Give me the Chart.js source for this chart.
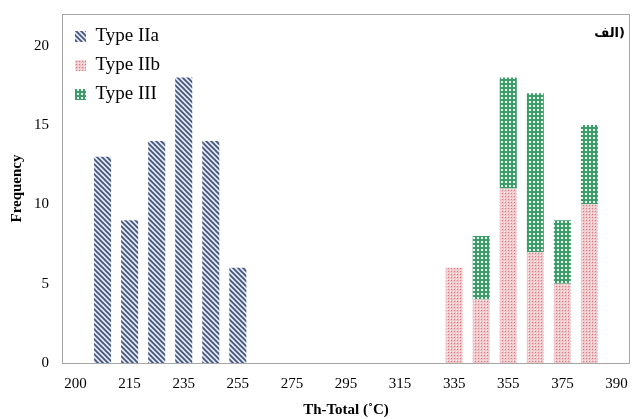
<!DOCTYPE html>
<html>
<head>
<meta charset="utf-8">
<script src="https://cdn.jsdelivr.net/npm/chart.js@4.4.1/dist/chart.umd.min.js"></script>
<style>
  html, body { margin: 0; padding: 0; background: #fff; }
  #wrap { width: 633px; height: 419px; }
</style>
</head>
<body>
<div id="wrap"><canvas id="canvas"></canvas></div>
<script>
// bins along the x axis, only every other one is labelled in the original
const tickLabels = ["200","","215","","235","","255","","275","","295","","315","","335","","355","","375","","390"];

const typeIIa = [null,13,9,14,18,14,6,null,null,null,null,null,null,null,null,null,null,null,null,null,null];
const typeIIb = [null,null,null,null,null,null,null,null,null,null,null,null,null,null,6,4,11,7,5,10,null];
const typeIII = [null,null,null,null,null,null,null,null,null,null,null,null,null,null,null,4,7,10,4,5,null];

const yTicks = [0, 5, 10, 15, 20];

const ctx = document.getElementById("canvas").getContext("2d");

function makePattern(size, draw) {
  const c = document.createElement("canvas");
  c.width = size; c.height = size;
  draw(c.getContext("2d"), size);
  return ctx.createPattern(c, "repeat");
}

// diagonal stripes
const stripes = makePattern(5, (g, s) => {
  g.fillStyle = "#e2e8f1";
  g.fillRect(0, 0, s, s);
  g.strokeStyle = "#43547a";
  g.lineWidth = 1.7;
  g.beginPath();
  g.moveTo(-1, -1); g.lineTo(s + 1, s + 1);
  g.moveTo(-1, s - 1); g.lineTo(1, s + 1);
  g.moveTo(s - 1, -1); g.lineTo(s + 1, 1);
  g.stroke();
});

// pink dots
const pinkDots = makePattern(3, (g, s) => {
  g.fillStyle = "#f0c8cb";
  g.fillRect(0, 0, s, s);
  g.fillStyle = "#fbefef";
  g.fillRect(0, 0, 1, 1);
  g.fillStyle = "#d57a80";
  g.fillRect(1, 1, 1, 1);
});

// green check
const greenCheck = makePattern(4, (g, s) => {
  g.fillStyle = "#3e9b6a";
  g.fillRect(0, 0, s, s);
  g.fillStyle = "#eef7f1";
  g.fillRect(1, 1, 2, 2);
});

const frame = {
  id: "frame",
  afterLayout(chart) {
    // keep the legend inside the plot, at its top-left corner
    const lg = chart.legend, a = chart.chartArea;
    const h = lg.height, w = lg.width;
    lg.top = a.top + 3;
    lg.bottom = lg.top + h;
    lg.left = a.left + 3;
    lg.right = lg.left + w;
  },
  afterDraw(chart) {
    const a = chart.chartArea, c = chart.ctx;
    c.save();
    c.strokeStyle = "#a6a6a6";
    c.lineWidth = 1;
    c.strokeRect(Math.round(a.left) + 0.5, Math.round(a.top) + 0.5, Math.round(a.right - a.left) - 1, Math.round(a.bottom - a.top));
    c.fillStyle = "#000";
    c.font = 'bold 13px "DejaVu Sans"';
    c.textAlign = "right";
    c.textBaseline = "middle";
    c.fillText("الف)", a.right - 5, a.top + 20);
    c.restore();
  }
};

const serif = "'Liberation Serif', 'Times New Roman', serif";

new Chart(ctx, {
  type: "bar",
  data: {
    labels: tickLabels,
    datasets: [
      { label: "Type IIa", data: typeIIa, backgroundColor: stripes, borderWidth: 0 },
      { label: "Type IIb", data: typeIIb, backgroundColor: pinkDots, borderWidth: 0 },
      { label: "Type III", data: typeIII, backgroundColor: greenCheck, borderWidth: 0 }
    ]
  },
  options: {
    responsive: true,
    maintainAspectRatio: false,
    animation: false,
    layout: { padding: { top: 3, right: 3, bottom: 0, left: 0 } },
    datasets: { bar: { categoryPercentage: 1, barPercentage: 0.63 } },
    plugins: {
      tooltip: { enabled: false },
      legend: {
        position: "chartArea",
        align: "start",
        labels: {
          boxWidth: 11,
          boxHeight: 11,
          padding: 10,
          color: "#000",
          font: { family: serif, size: 19 }
        }
      }
    },
    scales: {
      x: {
        stacked: true,
        grid: { display: false },
        border: { display: false },
        ticks: {
          autoSkip: false,
          maxRotation: 0,
          padding: 4,
          color: "#000",
          font: { family: serif, size: 15 }
        },
        title: {
          display: true,
          text: "Th-Total (˚C)",
          color: "#000",
          font: { family: serif, size: 15, weight: "bold" },
          padding: { top: 4, bottom: 0 }
        },
        afterFit(scale) { scale.height = 56; }
      },
      y: {
        stacked: true,
        min: 0,
        max: 22,
        afterBuildTicks(scale) { scale.ticks = yTicks.map(v => ({ value: v })); },
        grid: { display: false },
        border: { display: false },
        ticks: {
          padding: 5,
          color: "#000",
          font: { family: serif, size: 15 }
        },
        title: {
          display: true,
          text: "Frequency",
          color: "#000",
          font: { family: serif, size: 15, weight: "bold" },
          padding: { top: 8, bottom: 0 }
        },
        afterFit(scale) { scale.width = 62; }
      }
    }
  },
  plugins: [frame]
});
</script>
</body>
</html>
